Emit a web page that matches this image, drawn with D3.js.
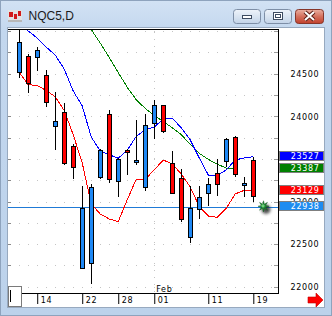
<!DOCTYPE html>
<html>
<head>
<meta charset="utf-8">
<title>NQC5,D</title>
<script src="https://cdn.jsdelivr.net/npm/d3@7"></script>
<style>
  body { margin: 0; background: #fff; }
  svg { display: block; }
  .px { font-family: "DejaVu Sans", sans-serif; font-size: 8px; letter-spacing: 0.65px; }
</style>
</head>
<body>
<div id="chart"></div>
<script>
// trading days shown
const dates = ["Jan 10", "Jan 13", "Jan 14", "Jan 15", "Jan 16", "Jan 17", "Jan 21", "Jan 22", "Jan 23",
  "Jan 24", "Jan 27", "Jan 28", "Jan 29", "Jan 30", "Jan 31", "Feb 03", "Feb 04", "Feb 05", "Feb 06",
  "Feb 07", "Feb 10", "Feb 11", "Feb 12", "Feb 13", "Feb 14", "Feb 18", "Feb 19"];

const opens  = [24516, 24704, 24692, 24485, 23890, 24047, 23655, 22216, 22275, 23284, 24023, 23244, 23601, 23455,
  23167, 23918, 24129, 23448, 23272, 22587, 22908, 23103, 23331, 23467, 23757, 23194, 23484];
const highs  = [25016, 24731, 24813, 24543, 24285, 24153, 23670, 23182, 23205, 23620, 24074, 23510, 23620, 23957,
  24023, 24195, 24135, 23589, 23378, 23182, 23182, 23272, 23502, 23740, 23765, 23284, 23522];
const lows   = [24450, 24273, 24535, 24109, 23608, 23428, 23264, 22210, 22032, 23261, 23221, 23056, 23311, 23428,
  23127, 23737, 23800, 23090, 22763, 22516, 22795, 22947, 23065, 23408, 23284, 23056, 22998];
const closes = [24872, 24383, 24775, 24164, 23945, 23452, 23408, 22920, 23167, 23601, 23261, 23499, 23577, 23484,
  23894, 24129, 23819, 23096, 22791, 22927, 23049, 23205, 23202, 23730, 23323, 23214, 23065];

// moving averages
const maBlue  = [25090, 25001, 24919, 24813, 24719, 24555, 24297, 24121, 23757, 23592, 23549, 23507, 23604, 23763,
  23843, 23874, 23968, 23980, 23863, 23722, 23511, 23311, 23311, 23370, 23488, 23511, 23527];
const maRed   = [24516, 24371, 24362, 24303, 24230, 24068, 23784, 23452, 22971, 22853, 22795, 22763, 23021, 23261,
  23261, 23372, 23487, 23440, 23323, 23170, 22941, 22830, 22815, 22920, 23090, 23131, 23129];
const maGreen = [null, null, null, null, null, null, null, 25171, 25019, 24860, 24690, 24514, 24340, 24195,
  24092, 24009, 23939, 23866, 23784, 23669, 23566, 23494, 23438, 23393, 23387, null, null];

// 23500 sits under the blue value box in the original, so it is left out
const priceTicks = [22000, 22500, 23000, 24000, 24500];
const gridLevels = [22000, 22250, 22500, 22750, 23000, 23250, 23500, 23750, 24000, 24250, 24500, 24750, 25000];
const tickDates  = ["Jan 14", "Jan 22", "Jan 28", "Feb 03", "Feb 11", "Feb 19"];
const tickLabels = ["14", "22", "28", "01", "11", "19"];
const monthStart = "Feb 03";
const monthName  = "Feb";
const markerValues = [23527, 23387, 23129, 22938];
const lastPrice = 22938;

const W = 332, H = 316;
const plot = { left: 8, right: 278, top: 29, bottom: 293 };

const svg = d3.select('#chart').append('svg')
  .attr('width', W)
  .attr('height', H);

const defs = svg.append('defs');
const g1 = defs.append('linearGradient').attr('id', 'frameGrad').attr('x1', 0).attr('y1', 0).attr('x2', 0).attr('y2', 1);
g1.append('stop').attr('offset', '0').attr('stop-color', '#d2e2f4');
g1.append('stop').attr('offset', '0.1').attr('stop-color', '#c3d7ee');
g1.append('stop').attr('offset', '1').attr('stop-color', '#bcd2eb');
const g2 = defs.append('linearGradient').attr('id', 'btnGrad').attr('x1', 0).attr('y1', 0).attr('x2', 0).attr('y2', 1);
g2.append('stop').attr('offset', '0').attr('stop-color', '#eef3fa');
g2.append('stop').attr('offset', '0.5').attr('stop-color', '#d9e4f1');
g2.append('stop').attr('offset', '1').attr('stop-color', '#c2d3e8');
const g3 = defs.append('linearGradient').attr('id', 'closeGrad').attr('x1', 0).attr('y1', 0).attr('x2', 0).attr('y2', 1);
g3.append('stop').attr('offset', '0').attr('stop-color', '#eab0a2');
g3.append('stop').attr('offset', '0.5').attr('stop-color', '#d4705d');
g3.append('stop').attr('offset', '1').attr('stop-color', '#c1402c');
defs.append('filter').attr('id', 'blur').attr('x', '-1').attr('y', '-1').attr('width', 3).attr('height', 3)
  .append('feGaussianBlur').attr('stdDeviation', 1.8);
defs.append('clipPath').attr('id', 'plotClip')
  .append('rect')
  .attr('x', plot.left).attr('y', plot.top + 0.5)
  .attr('width', plot.right - plot.left).attr('height', plot.bottom - plot.top);

// window frame
svg.append('rect')
  .attr('x', 0.5).attr('y', 0.5).attr('width', W - 1).attr('height', H - 1)
  .attr('fill', 'url(#frameGrad)').attr('stroke', '#8ea3bd');
svg.append('rect')
  .attr('x', 7.5).attr('y', 27.5).attr('width', 317).attr('height', 280)
  .attr('fill', '#fff').attr('stroke', '#97a9bf');

// title bar: icon + caption
const icon = svg.append('g');
icon.append('rect').attr('x', 8).attr('y', 10).attr('width', 14).attr('height', 12).attr('fill', '#e2e2e2');
icon.append('rect').attr('x', 9).attr('y', 12).attr('width', 4).attr('height', 5).attr('fill', '#d21a1a');
icon.append('rect').attr('x', 14).attr('y', 14).attr('width', 3).attr('height', 5).attr('fill', '#d21a1a');
icon.append('rect').attr('x', 18).attr('y', 11).attr('width', 3).attr('height', 5).attr('fill', '#d21a1a');
icon.append('rect').attr('x', 8).attr('y', 20).attr('width', 14).attr('height', 2).attr('fill', '#b8b8b8');
svg.append('text')
  .attr('x', 28.5).attr('y', 19.5)
  .attr('font-family', '"Liberation Sans", Arial, sans-serif')
  .attr('font-size', 12)
  .attr('fill', '#1b1b1b')
  .text('NQC5,D');

// caption buttons
svg.append('rect').attr('x', 233.5).attr('y', 9.5).attr('width', 27).attr('height', 14).attr('rx', 3)
  .attr('fill', 'url(#btnGrad)').attr('stroke', '#7d8ea6');
svg.append('rect').attr('x', 242.5).attr('y', 15.5).attr('width', 9).attr('height', 3)
  .attr('fill', '#fff').attr('stroke', '#3d4b60');
svg.append('rect').attr('x', 264.5).attr('y', 9.5).attr('width', 27).attr('height', 14).attr('rx', 3)
  .attr('fill', 'url(#btnGrad)').attr('stroke', '#7d8ea6');
svg.append('rect').attr('x', 273.5).attr('y', 12.5).attr('width', 9).attr('height', 7)
  .attr('fill', '#fff').attr('stroke', '#3d4b60').attr('stroke-width', 1);
svg.append('rect').attr('x', 275.5).attr('y', 14.5).attr('width', 5).attr('height', 3)
  .attr('fill', 'none').attr('stroke', '#3d4b60');
svg.append('rect').attr('x', 295.5).attr('y', 9.5).attr('width', 28).attr('height', 14).attr('rx', 3)
  .attr('fill', 'url(#closeGrad)').attr('stroke', '#86362a');
const xPath = 'M305,12 L314,20 M314,12 L305,20';
svg.append('path').attr('d', xPath).attr('stroke', '#5c2018').attr('stroke-width', 4);
svg.append('path').attr('d', xPath).attr('stroke', '#fff').attr('stroke-width', 2);

// scales
const x = d3.scalePoint().domain(dates).range([19.2, 253.3]);
const step = x.step();
const y = d3.scaleLinear().domain([22000, 24500]).range([286.7, 73.7]);

const chart = svg.append('g').attr('shape-rendering', 'crispEdges');

// dotted grid, one dot per bar slot
const slots = d3.range(0, 29).map(i => 19.2 + i * step).filter(v => v < plot.right - 1);
gridLevels.forEach(level => {
  chart.append('g').selectAll('rect')
    .data(slots)
    .enter()
    .append('rect')
    .attr('x', d => Math.round(d))
    .attr('y', Math.round(y(level)))
    .attr('width', 1).attr('height', 1)
    .attr('fill', '#c4c4c4');
});
chart.append('line')
  .attr('x1', Math.round(x(monthStart)) + 0.5).attr('x2', Math.round(x(monthStart)) + 0.5)
  .attr('y1', plot.top + 3).attr('y2', plot.bottom)
  .attr('stroke', '#c4c4c4').attr('stroke-dasharray', '1,6');

// small tick marks on left and right edges
chart.append('g').selectAll('line')
  .data(gridLevels)
  .enter()
  .append('line')
  .attr('x1', plot.left).attr('x2', plot.left + 3)
  .attr('y1', d => Math.round(y(d)) + 0.5).attr('y2', d => Math.round(y(d)) + 0.5)
  .attr('stroke', '#8a8a8a');
chart.append('g').selectAll('line')
  .data(gridLevels)
  .enter()
  .append('line')
  .attr('x1', plot.right - 4).attr('x2', plot.right)
  .attr('y1', d => Math.round(y(d)) + 0.5).attr('y2', d => Math.round(y(d)) + 0.5)
  .attr('stroke', '#9a9a9a');

// last price line
chart.append('line')
  .attr('x1', plot.left).attr('x2', plot.right)
  .attr('y1', Math.round(y(lastPrice)) + 0.5).attr('y2', Math.round(y(lastPrice)) + 0.5)
  .attr('stroke', '#1f7ad6').attr('stroke-width', 1.3);

// moving averages
const clipped = chart.append('g').attr('clip-path', 'url(#plotClip)');
const line = d3.line()
  .defined(d => d != null)
  .x((d, i) => x(dates[i]))
  .y(d => y(d));
[[maGreen, '#008000'], [maBlue, '#0000ff'], [maRed, '#ff0000']].forEach(([series, color]) => {
  clipped.append('path')
    .datum(series)
    .attr('fill', 'none')
    .attr('stroke', color)
    .attr('stroke-width', 1)
    .attr('d', line);
});

// candles
const bars = dates.map((d, i) => ({ d, o: opens[i], h: highs[i], l: lows[i], c: closes[i] }));
const candle = clipped.selectAll('g.candle')
  .data(bars)
  .enter()
  .append('g')
  .attr('class', 'candle');
candle.append('line')
  .attr('x1', b => Math.round(x(b.d)) + 0.5).attr('x2', b => Math.round(x(b.d)) + 0.5)
  .attr('y1', b => y(b.h)).attr('y2', b => y(b.l))
  .attr('stroke', '#000');
candle.append('rect')
  .attr('x', b => Math.round(x(b.d)) - 1.5)
  .attr('y', b => Math.round(y(Math.max(b.o, b.c))) + 0.5)
  .attr('width', 4)
  .attr('height', b => Math.max(1, Math.round(Math.abs(y(b.o) - y(b.c)))))
  .attr('fill', b => b.c >= b.o ? '#1e88f5' : '#ff0000')
  .attr('stroke', '#000');

// frame lines of the plot
chart.append('line').attr('x1', plot.left).attr('x2', plot.right + 1)
  .attr('y1', plot.top + 0.5).attr('y2', plot.top + 0.5).attr('stroke', '#000');
chart.append('line').attr('x1', plot.right + 0.5).attr('x2', plot.right + 0.5)
  .attr('y1', plot.top).attr('y2', plot.bottom + 1).attr('stroke', '#000');

// price axis
const yAxis = d3.axisRight(y)
  .tickValues(priceTicks)
  .tickSize(0)
  .tickPadding(12.5)
  .tickFormat(d3.format('d'));
const yAxisG = svg.append('g')
  .attr('transform', `translate(${plot.right}, 0)`)
  .call(yAxis);
yAxisG.select('.domain').remove();
yAxisG.selectAll('text')
  .attr('class', 'px')
  .attr('font-family', null).attr('font-size', null)
  .attr('fill', '#000')
  .attr('dy', '0.36em');

// date axis
const xAxis = d3.axisBottom(x)
  .tickValues(tickDates)
  .tickSize(11)
  .tickFormat((d, i) => tickLabels[i]);
const xAxisG = svg.append('g')
  .attr('transform', `translate(0, ${plot.bottom})`)
  .call(xAxis);
xAxisG.select('.domain').remove();
xAxisG.selectAll('.tick line').attr('stroke', '#000');
xAxisG.selectAll('.tick text')
  .attr('class', 'px')
  .attr('font-family', null).attr('font-size', null)
  .attr('fill', '#000')
  .attr('text-anchor', 'start')
  .attr('x', 3)
  .attr('y', 9.5)
  .attr('dy', null);
svg.append('line')
  .attr('x1', 21).attr('x2', plot.right + 1)
  .attr('y1', plot.bottom + 0.5).attr('y2', plot.bottom + 0.5)
  .attr('stroke', '#000').attr('shape-rendering', 'crispEdges');
svg.append('text')
  .attr('class', 'px')
  .attr('x', x(monthStart) + 2)
  .attr('y', plot.bottom - 1.5)
  .attr('fill', '#000')
  .text(monthName);

// little box in the lower-left corner
svg.append('rect').attr('x', 8.5).attr('y', 286.5).attr('width', 13).attr('height', 20)
  .attr('fill', '#fff').attr('stroke', '#7a7a7a').attr('shape-rendering', 'crispEdges');
svg.append('line').attr('x1', 10.5).attr('x2', 10.5).attr('y1', 290).attr('y2', 302)
  .attr('stroke', '#000').attr('shape-rendering', 'crispEdges');

// value boxes on the price axis
const boxColors = ['#0000ff', '#008000', '#ff0000', '#1e8cf0'];
const boxes = svg.selectAll('g.vbox')
  .data(markerValues)
  .enter()
  .append('g')
  .attr('class', 'vbox')
  .attr('transform', d => `translate(0, ${Math.round(y(d) - 0.7)})`);
boxes.append('rect')
  .attr('x', 279.5).attr('y', -4.5)
  .attr('width', 44).attr('height', 8.5)
  .attr('fill', (d, i) => boxColors[i])
  .attr('stroke', '#7f7f7f')
  .attr('shape-rendering', 'crispEdges');
boxes.append('text')
  .attr('class', 'px')
  .attr('x', 290.7)
  .attr('y', 0)
  .attr('dy', '0.36em')
  .attr('fill', '#fff')
  .text(d => d);

// sparkle marker at the last price
const sx = 263.5, sy = y(lastPrice) - 0.5;
svg.append('circle').attr('cx', sx + 2.5).attr('cy', sy + 3).attr('r', 4.5)
  .attr('fill', '#222').attr('opacity', 0.8).attr('filter', 'url(#blur)');
const starPts = d3.range(16).map(k => [k * Math.PI / 8, k % 2 ? 2.2 : 5.5]);
svg.append('path')
  .attr('transform', `translate(${sx}, ${sy})`)
  .attr('d', d3.lineRadial()(starPts) + 'Z')
  .attr('fill', '#1f8a35')
  .attr('stroke', '#0e5a1f')
  .attr('stroke-width', 0.5);
svg.append('circle').attr('cx', sx - 0.5).attr('cy', sy - 0.5).attr('r', 1.6).attr('fill', '#6fd07a');

// scroll arrow
svg.append('path')
  .attr('d', 'M308,297 L316,297 L316,293 L323,300 L316,307 L316,303 L308,303 Z')
  .attr('fill', '#ff0000')
  .attr('stroke', '#c00000')
  .attr('stroke-width', 0.6);
</script>
</body>
</html>
